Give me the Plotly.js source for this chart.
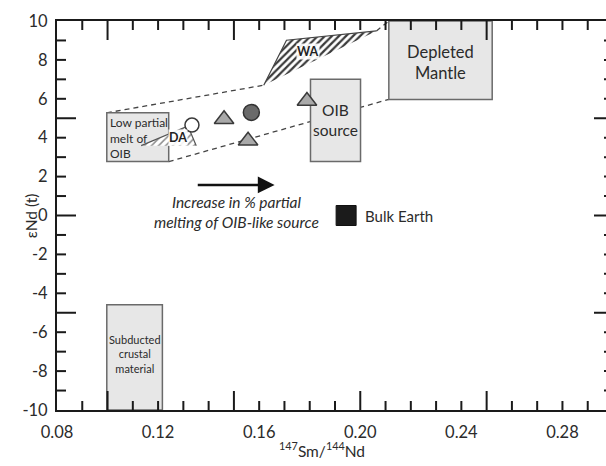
<!DOCTYPE html>
<html>
<head>
<meta charset="utf-8">
<script src="https://cdn.plot.ly/plotly-3.0.1.min.js"></script>
<style>
html,body{margin:0;padding:0;overflow:hidden;background:#fff;}
#chart{width:620px;height:466px;}
</style>
</head>
<body>
<div id="chart"></div>
<script>
// ---- axis ticks ----
const xLabelTicks = [0.08, 0.12, 0.16, 0.20, 0.24, 0.28];
const xTickStep = 0.01;
const xLongTicksBottom = [0.10, 0.15, 0.20, 0.25];
const xLongTicksTop = [0.10, 0.15, 0.25];
const yLabelTicks = [-10, -8, -6, -4, -2, 0, 2, 4, 6, 8, 10];
const yTickStep = 1;
const yLongTicks = [-5, 0, 5];

// ---- reservoir boxes ----
const boxNames = ['Low partial<br>melt of<br>OIB', 'OIB<br>source', 'Depleted<br>Mantle', 'Subducted<br>crustal<br>material'];
const boxX0 = [0.0997, 0.1803, 0.2113, 0.0997];
const boxX1 = [0.1242, 0.2001, 0.2522, 0.1217];
const boxY0 = [2.77, 2.77, 5.97, -10];
const boxY1 = [5.28, 7.01, 10, -4.59];

// ---- dashed mixing envelope ----
const guideX0 = [0.0997, 0.2064, 0.1242];
const guideY0 = [5.28, 9.49, 2.77];
const guideX1 = [0.1618, 0.2113, 0.2113];
const guideY1 = [6.70, 10.0, 5.97];

// ---- hatched fields ----
const waX = [0.1618, 0.1708, 0.2064];
const waY = [6.70, 9.01, 9.49];
const daX = [0.1133, 0.1318, 0.1351];
const daY = [3.59, 4.60, 3.59];

// ---- samples ----
const openCircleX = [0.1334];
const openCircleY = [4.65];
const greyCircleX = [0.1569];
const greyCircleY = [5.30];
const triangleX = [0.1461, 0.1556, 0.1789];
const triangleY = [4.95, 3.84, 5.89];
const bulkEarthX = [0.1944];
const bulkEarthY = [0.0];

// ---- arrow ----
const arrowX = [0.1351, 0.1661];
const arrowY = [1.57, 1.57];

const FONT = 'Lato, "Liberation Sans", Arial, sans-serif';
const TXT = '#2b2b2b';
const AX = '#1a1a1a';
const X_MIN = 0.08, X_MAX = 0.30, Y_MIN = -10, Y_MAX = 10;
const W = 620, H = 466, ML = 57, MR = 7, MT = 21, MB = 56;
const pxPerX = (W - ML - MR) / (X_MAX - X_MIN);
const pxPerY = (H - MT - MB) / (Y_MAX - Y_MIN);

const traces = [
  {x: daX, y: daY, type: 'scatter', mode: 'lines', fill: 'toself',
   line: {color: '#555', width: 1.2},
   fillpattern: {shape: '/', size: 5, solidity: 0.3, fgcolor: '#8c8c8c', bgcolor: '#ffffff'},
   hoverinfo: 'skip', showlegend: false},
  {x: waX, y: waY, type: 'scatter', mode: 'lines', fill: 'toself',
   line: {color: '#444', width: 1.2},
   fillpattern: {shape: '/', size: 5, solidity: 0.45, fgcolor: '#3a3a3a', bgcolor: '#ffffff'},
   hoverinfo: 'skip', showlegend: false},
  {x: triangleX, y: triangleY, type: 'scatter', mode: 'markers',
   marker: {symbol: 'triangle-up', size: 17, color: '#a9a9a9', line: {color: '#3a3a3a', width: 1.5}},
   showlegend: false},
  {x: openCircleX, y: openCircleY, type: 'scatter', mode: 'markers',
   marker: {symbol: 'circle', size: 14, color: '#ffffff', line: {color: '#3a3a3a', width: 1.5}},
   showlegend: false},
  {x: greyCircleX, y: greyCircleY, type: 'scatter', mode: 'markers',
   marker: {symbol: 'circle', size: 16, color: '#6a6a6a', line: {color: '#333', width: 1.5}},
   showlegend: false},
  {x: bulkEarthX, y: bulkEarthY, type: 'scatter', mode: 'markers',
   marker: {symbol: 'square', size: 20, color: '#1b1b1b', line: {color: '#111', width: 1}},
   showlegend: false}
];

const shapes = [];
for (let i = 0; i < guideX0.length; i++) {
  shapes.push({type: 'line', xref: 'x', yref: 'y', layer: 'below',
    x0: guideX0[i], y0: guideY0[i], x1: guideX1[i], y1: guideY1[i],
    line: {color: '#444', width: 1.3, dash: '5px,4px'}});
}
for (let i = 0; i < boxNames.length; i++) {
  shapes.push({type: 'rect', xref: 'x', yref: 'y', layer: 'below',
    x0: boxX0[i], x1: boxX1[i], y0: boxY0[i], y1: boxY1[i],
    fillcolor: '#e7e7e7', line: {color: '#6a6a6a', width: 1.5}});
}
// inward tick marks on all four sides (lengths in pixels converted to axis units)
function xTick(v, lenPx, atBottom) {
  const d = lenPx / pxPerY;
  shapes.push({type: 'line', xref: 'x', yref: 'y', layer: 'above',
    x0: v, x1: v, y0: atBottom ? Y_MIN : Y_MAX, y1: atBottom ? Y_MIN + d : Y_MAX - d,
    line: {color: AX, width: 2}});
}
function yTick(v, lenPx, atLeft) {
  const d = lenPx / pxPerX;
  shapes.push({type: 'line', xref: 'x', yref: 'y', layer: 'above',
    y0: v, y1: v, x0: atLeft ? X_MIN : X_MAX, x1: atLeft ? X_MIN + d : X_MAX - d,
    line: {color: AX, width: 2}});
}
const nX = Math.round((X_MAX - X_MIN) / xTickStep);
for (let k = 1; k < nX; k++) {
  const v = Math.round((X_MIN + k * xTickStep) * 100) / 100;
  xTick(v, xLongTicksBottom.some(t => Math.abs(t - v) < 1e-9) ? 19 : 9, true);
  xTick(v, xLongTicksTop.some(t => Math.abs(t - v) < 1e-9) ? 19 : 9, false);
}
for (let v = Y_MIN + yTickStep; v < Y_MAX; v += yTickStep) {
  const len = yLongTicks.includes(v) ? 19 : 9;
  yTick(v, len, true);
  yTick(v, len, false);
}

const annotations = [];
annotations.push({x: boxX0[0] + 0.0005, y: (boxY0[0] + boxY1[0]) / 2 - 0.02, xref: 'x', yref: 'y',
  text: boxNames[0], showarrow: false, xanchor: 'left', align: 'left',
  font: {family: FONT, size: 12, color: TXT}});
const boxFont = [null, 15.5, 16.5, 11];
const boxDy = [0, 0, -0.12, 0.15];
for (let i = 1; i < boxNames.length; i++) {
  annotations.push({x: (boxX0[i] + boxX1[i]) / 2, y: (boxY0[i] + boxY1[i]) / 2 + boxDy[i],
    xref: 'x', yref: 'y', text: boxNames[i], showarrow: false,
    font: {family: FONT, size: boxFont[i], color: TXT}});
}
annotations.push({x: 0.1793, y: 8.41, xref: 'x', yref: 'y', text: '<b>WA</b>', showarrow: false,
  bgcolor: 'rgba(255,255,255,0.9)', borderpad: 0,
  font: {family: FONT, size: 12.5, color: '#222'}});
annotations.push({x: 0.1278, y: 4.0, xref: 'x', yref: 'y', text: '<b>DA</b>', showarrow: false,
  bgcolor: 'rgba(255,255,255,0.9)', borderpad: 0,
  font: {family: FONT, size: 12.5, color: '#222'}});
annotations.push({x: arrowX[1], y: arrowY[1], ax: arrowX[0], ay: arrowY[0],
  xref: 'x', yref: 'y', axref: 'x', ayref: 'y', text: '', showarrow: true,
  arrowhead: 2, arrowsize: 1.4, arrowwidth: 2.4, arrowcolor: '#111'});
annotations.push({x: 0.151, y: 0.2, xref: 'x', yref: 'y',
  text: '<i>Increase in % partial<br>melting of OIB-like source</i>', showarrow: false,
  font: {family: FONT, size: 15.5, color: TXT}});
annotations.push({x: 0.2009, y: 0.0, xref: 'x', yref: 'y', text: 'Bulk Earth', showarrow: false,
  xanchor: 'left', font: {family: FONT, size: 15, color: TXT}});
annotations.push({x: 0.1848, y: -0.102, xref: 'x', yref: 'paper', yanchor: 'middle',
  text: '<sup>147</sup>Sm/<sup>144</sup>Nd', showarrow: false,
  font: {family: FONT, size: 15.5, color: TXT}});
annotations.push({x: -0.047, y: 0.5, xref: 'paper', yref: 'paper', textangle: -90,
  text: 'εNd (t)', showarrow: false, xanchor: 'center', yanchor: 'middle',
  font: {family: FONT, size: 15.5, color: TXT}});

const layout = {
  width: W, height: H,
  margin: {l: ML, r: MR, t: MT, b: MB},
  paper_bgcolor: '#ffffff', plot_bgcolor: '#ffffff',
  font: {family: FONT, color: TXT},
  xaxis: {
    range: [X_MIN, X_MAX], tickmode: 'array', tickvals: xLabelTicks,
    ticktext: xLabelTicks.map(v => v.toFixed(2)), ticks: '',
    showline: true, linecolor: AX, linewidth: 2, mirror: true,
    showgrid: false, zeroline: false, ticklabelstandoff: 6,
    tickfont: {family: FONT, size: 16.5, color: TXT}
  },
  yaxis: {
    range: [Y_MIN, Y_MAX], tickmode: 'array', tickvals: yLabelTicks,
    ticktext: yLabelTicks.map(v => String(v)), ticks: '',
    showline: true, linecolor: AX, linewidth: 2, mirror: true,
    showgrid: false, zeroline: false, ticklabelstandoff: 4,
    tickfont: {family: FONT, size: 16.5, color: TXT}
  },
  shapes: shapes,
  annotations: annotations,
  showlegend: false
};

Plotly.newPlot('chart', traces, layout, {displayModeBar: false, staticPlot: true});
</script>
</body>
</html>
